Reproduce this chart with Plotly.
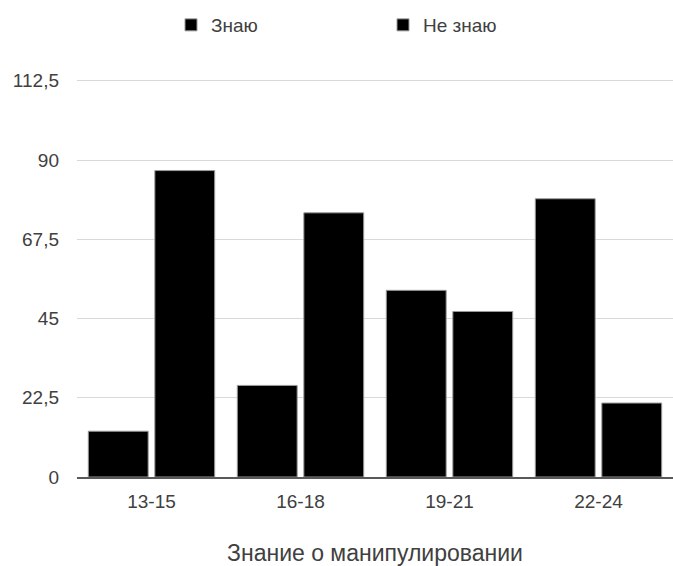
import plotly.graph_objects as go

categories = ["13-15", "16-18", "19-21", "22-24"]
know = [13, 26, 53, 79]
dont_know = [87, 75, 47, 21]
series_names = ["Знаю", "Не знаю"]
y_ticks = [0, 22.5, 45, 67.5, 90, 112.5]
y_tick_labels = ["0", "22,5", "45", "67,5", "90", "112,5"]
x_title = "Знание о манипулировании"

FONT = "Liberation Sans, Arial, sans-serif"

fig = go.Figure()
for name, vals in zip(series_names, [know, dont_know]):
    fig.add_trace(go.Bar(
        x=categories, y=vals, name=name,
        marker=dict(color="#000000", line=dict(color="#9a9a9a", width=1)),
    ))

fig.update_layout(
    width=673, height=566,
    margin=dict(l=77, r=0, t=79, b=89),
    paper_bgcolor="white", plot_bgcolor="white",
    barmode="group", bargap=0.107, bargroupgap=0.1,
    font=dict(family=FONT, color="#404040", size=18),
    showlegend=True,
    legend=dict(
        orientation="h", xref="container", yref="container",
        x=171 / 673, xanchor="left", y=1 - 6 / 566, yanchor="top",
        entrywidth=167, entrywidthmode="pixels",
        font=dict(size=19, color="#404040"),
        itemwidth=30, traceorder="normal",
    ),
    xaxis=dict(
        showgrid=False, showline=True, linecolor="#595959", linewidth=2,
        ticks="", ticklabelstandoff=6,
        tickfont=dict(size=19, color="#404040"),
        title=dict(text=x_title, font=dict(size=23, color="#404040"), standoff=36),
    ),
    yaxis=dict(
        range=[0, 113], tickvals=y_ticks, ticktext=y_tick_labels,
        showgrid=True, gridcolor="#d9d9d9", gridwidth=1,
        zeroline=False, showline=False, ticks="",
        ticklabelstandoff=17,
        tickfont=dict(size=19, color="#404040"),
    ),
)

fig.write_html("out.html")
